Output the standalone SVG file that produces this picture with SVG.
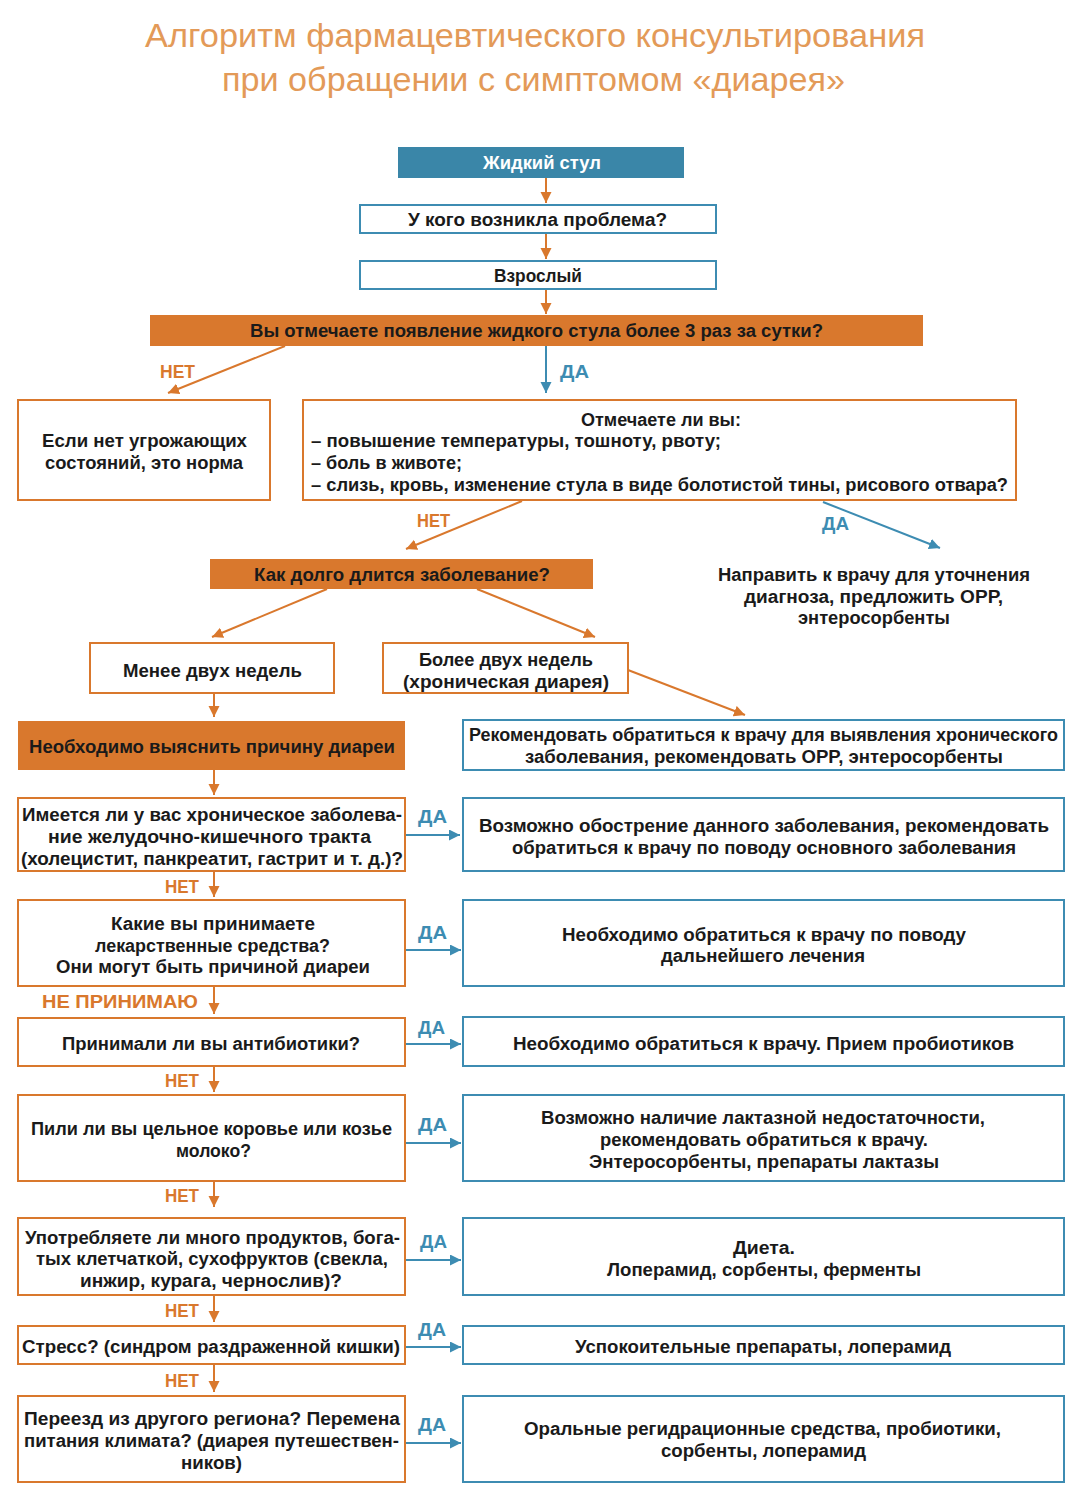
<svg xmlns="http://www.w3.org/2000/svg" width="1082" height="1494" viewBox="0 0 1082 1494">
<defs>
<marker id="ao" markerUnits="userSpaceOnUse" markerWidth="12" markerHeight="12" refX="11" refY="5.5" orient="auto"><path d="M0,0 L11,5.5 L0,11 z" fill="#D9782D"/></marker>
<marker id="ab" markerUnits="userSpaceOnUse" markerWidth="12" markerHeight="12" refX="11" refY="5.5" orient="auto"><path d="M0,0 L11,5.5 L0,11 z" fill="#3D8CB2"/></marker>
</defs>
<style>
text{font-family:"Liberation Sans","DejaVu Sans",sans-serif;font-weight:bold;font-size:18px;fill:#1a1a1a;}
.t{font-weight:normal;font-size:34px;fill:#E39A58;}
.w{fill:#ffffff;}
.lo{fill:#D9782D;}
.lb{fill:#3D8CB2;}
.ob{fill:#ffffff;stroke:#D9782D;stroke-width:2;}
.bb{fill:#ffffff;stroke:#3D8CB2;stroke-width:2;}
.of{fill:#D9782D;}
.bf{fill:#3A86A8;}
.co{stroke:#D9782D;stroke-width:2;fill:none;marker-end:url(#ao);}
.cb{stroke:#3D8CB2;stroke-width:2;fill:none;marker-end:url(#ab);}
</style>
<rect x="0" y="0" width="1082" height="1494" fill="#ffffff"/>
<g id="title">
<text class="t" x="145" y="47" textLength="780" lengthAdjust="spacingAndGlyphs">Алгоритм фармацевтического консультирования</text>
<text class="t" x="222" y="91" textLength="623" lengthAdjust="spacingAndGlyphs">при обращении с симптомом «диарея»</text>
</g>
<g id="connectors">
<line class="co" x1="546" y1="178" x2="546" y2="203"/>
<line class="co" x1="546" y1="233" x2="546" y2="259"/>
<line class="co" x1="546" y1="289" x2="546" y2="314"/>
<line class="co" x1="285" y1="346" x2="168" y2="393"/>
<line class="cb" x1="546" y1="346" x2="546" y2="393"/>
<line class="co" x1="522" y1="501" x2="406" y2="549"/>
<line class="cb" x1="823" y1="502" x2="940" y2="548"/>
<line class="co" x1="327" y1="589" x2="212" y2="637"/>
<line class="co" x1="477" y1="589" x2="595" y2="637"/>
<line class="co" x1="628" y1="670" x2="745" y2="715"/>
<line class="co" x1="214" y1="693" x2="214" y2="717"/>
<line class="co" x1="214" y1="770" x2="214" y2="795"/>
<line class="cb" x1="405" y1="835" x2="460" y2="835"/>
<line class="co" x1="214" y1="871" x2="214" y2="897"/>
<line class="cb" x1="405" y1="950" x2="461" y2="950"/>
<line class="co" x1="214" y1="986" x2="214" y2="1014"/>
<line class="cb" x1="405" y1="1044" x2="461" y2="1044"/>
<line class="co" x1="214" y1="1066" x2="214" y2="1092"/>
<line class="cb" x1="405" y1="1143" x2="461" y2="1143"/>
<line class="co" x1="214" y1="1181" x2="214" y2="1207"/>
<line class="cb" x1="405" y1="1260" x2="461" y2="1260"/>
<line class="co" x1="214" y1="1295" x2="214" y2="1322"/>
<line class="cb" x1="405" y1="1347" x2="461" y2="1347"/>
<line class="co" x1="214" y1="1364" x2="214" y2="1392"/>
<line class="cb" x1="405" y1="1443" x2="461" y2="1443"/>
<text class="lo" x="160" y="378" textLength="35" lengthAdjust="spacingAndGlyphs">НЕТ</text>
<text class="lb" x="560" y="378" textLength="29" lengthAdjust="spacingAndGlyphs">ДА</text>
<text class="lo" x="417" y="527" textLength="33" lengthAdjust="spacingAndGlyphs">НЕТ</text>
<text class="lb" x="822" y="530" textLength="27" lengthAdjust="spacingAndGlyphs">ДА</text>
<text class="lb" x="418" y="823" textLength="29" lengthAdjust="spacingAndGlyphs">ДА</text>
<text class="lo" x="165" y="893" textLength="34" lengthAdjust="spacingAndGlyphs">НЕТ</text>
<text class="lb" x="418" y="939" textLength="29" lengthAdjust="spacingAndGlyphs">ДА</text>
<text class="lo" x="42" y="1008" textLength="156" lengthAdjust="spacingAndGlyphs">НЕ ПРИНИМАЮ</text>
<text class="lb" x="418" y="1034" textLength="27" lengthAdjust="spacingAndGlyphs">ДА</text>
<text class="lo" x="165" y="1087" textLength="34" lengthAdjust="spacingAndGlyphs">НЕТ</text>
<text class="lb" x="418" y="1131" textLength="29" lengthAdjust="spacingAndGlyphs">ДА</text>
<text class="lo" x="165" y="1202" textLength="34" lengthAdjust="spacingAndGlyphs">НЕТ</text>
<text class="lb" x="420" y="1248" textLength="27" lengthAdjust="spacingAndGlyphs">ДА</text>
<text class="lo" x="165" y="1317" textLength="34" lengthAdjust="spacingAndGlyphs">НЕТ</text>
<text class="lb" x="418" y="1336" textLength="28" lengthAdjust="spacingAndGlyphs">ДА</text>
<text class="lo" x="165" y="1387" textLength="34" lengthAdjust="spacingAndGlyphs">НЕТ</text>
<text class="lb" x="418" y="1431" textLength="28" lengthAdjust="spacingAndGlyphs">ДА</text>
</g>
<g id="n_start">
<rect class="bf" x="398" y="147" width="286" height="31"/>
<text class="w" x="483" y="169" textLength="118" lengthAdjust="spacingAndGlyphs">Жидкий стул</text>
</g>
<g id="n_who">
<rect class="bb" x="360" y="205" width="356" height="28"/>
<text x="408" y="226" textLength="259" lengthAdjust="spacingAndGlyphs">У кого возникла проблема?</text>
</g>
<g id="n_adult">
<rect class="bb" x="360" y="261" width="356" height="28"/>
<text x="494" y="282" textLength="88" lengthAdjust="spacingAndGlyphs">Взрослый</text>
</g>
<g id="n_freq">
<rect class="of" x="150" y="315" width="773" height="31"/>
<text x="250" y="337" textLength="573" lengthAdjust="spacingAndGlyphs">Вы отмечаете появление жидкого стула более 3 раз за сутки?</text>
</g>
<g id="n_norm">
<rect class="ob" x="18" y="400" width="252" height="100"/>
<text x="42" y="447" textLength="205" lengthAdjust="spacingAndGlyphs">Если нет угрожающих</text>
<text x="45" y="469" textLength="198" lengthAdjust="spacingAndGlyphs">состояний, это норма</text>
</g>
<g id="n_symptoms">
<rect class="ob" x="303" y="400" width="713" height="100"/>
<text x="581" y="426" textLength="160" lengthAdjust="spacingAndGlyphs">Отмечаете ли вы:</text>
<text x="311" y="447" textLength="410" lengthAdjust="spacingAndGlyphs">– повышение температуры, тошноту, рвоту;</text>
<text x="311" y="469" textLength="151" lengthAdjust="spacingAndGlyphs">– боль в животе;</text>
<text x="311" y="491" textLength="697" lengthAdjust="spacingAndGlyphs">– слизь, кровь, изменение стула в виде болотистой тины, рисового отвара?</text>
</g>
<g id="n_howlong">
<rect class="of" x="210" y="559" width="383" height="30"/>
<text x="254" y="581" textLength="296" lengthAdjust="spacingAndGlyphs">Как долго длится заболевание?</text>
</g>
<g id="n_doctor">
<text x="718" y="581" textLength="312" lengthAdjust="spacingAndGlyphs">Направить к врачу для уточнения</text>
<text x="744" y="603" textLength="259" lengthAdjust="spacingAndGlyphs">диагноза, предложить ОРР,</text>
<text x="798" y="624" textLength="152" lengthAdjust="spacingAndGlyphs">энтеросорбенты</text>
</g>
<g id="n_less">
<rect class="ob" x="90" y="643" width="244" height="50"/>
<text x="123" y="677" textLength="179" lengthAdjust="spacingAndGlyphs">Менее двух недель</text>
</g>
<g id="n_more">
<rect class="ob" x="383" y="643" width="245" height="50"/>
<text x="419" y="666" textLength="174" lengthAdjust="spacingAndGlyphs">Более двух недель</text>
<text x="403" y="688" textLength="206" lengthAdjust="spacingAndGlyphs">(хроническая диарея)</text>
</g>
<g id="n_cause">
<rect class="of" x="18" y="721" width="387" height="49"/>
<text x="29" y="753" textLength="366" lengthAdjust="spacingAndGlyphs">Необходимо выяснить причину диареи</text>
</g>
<g id="n_chronic_rec">
<rect class="bb" x="463" y="720" width="601" height="50"/>
<text x="469" y="741" textLength="589" lengthAdjust="spacingAndGlyphs">Рекомендовать обратиться к врачу для выявления хронического</text>
<text x="525" y="763" textLength="478" lengthAdjust="spacingAndGlyphs">заболевания, рекомендовать ОРР, энтеросорбенты</text>
</g>
<g id="n_q1">
<rect class="ob" x="18" y="798" width="387" height="73"/>
<text x="22" y="821" textLength="380" lengthAdjust="spacingAndGlyphs">Имеется ли у вас хроническое заболева-</text>
<text x="48" y="843" textLength="323" lengthAdjust="spacingAndGlyphs">ние желудочно-кишечного тракта</text>
<text x="21" y="865" textLength="382" lengthAdjust="spacingAndGlyphs">(холецистит, панкреатит, гастрит и т. д.)?</text>
</g>
<g id="n_a1">
<rect class="bb" x="463" y="798" width="601" height="73"/>
<text x="479" y="832" textLength="570" lengthAdjust="spacingAndGlyphs">Возможно обострение данного заболевания, рекомендовать</text>
<text x="512" y="854" textLength="504" lengthAdjust="spacingAndGlyphs">обратиться к врачу по поводу основного заболевания</text>
</g>
<g id="n_q2">
<rect class="ob" x="18" y="900" width="387" height="86"/>
<text x="111" y="930" textLength="204" lengthAdjust="spacingAndGlyphs">Какие вы принимаете</text>
<text x="95" y="952" textLength="235" lengthAdjust="spacingAndGlyphs">лекарственные средства?</text>
<text x="56" y="973" textLength="314" lengthAdjust="spacingAndGlyphs">Они могут быть причиной диареи</text>
</g>
<g id="n_a2">
<rect class="bb" x="463" y="900" width="601" height="86"/>
<text x="562" y="941" textLength="404" lengthAdjust="spacingAndGlyphs">Необходимо обратиться к врачу по поводу</text>
<text x="661" y="962" textLength="204" lengthAdjust="spacingAndGlyphs">дальнейшего лечения</text>
</g>
<g id="n_q3">
<rect class="ob" x="18" y="1018" width="387" height="48"/>
<text x="62" y="1050" textLength="298" lengthAdjust="spacingAndGlyphs">Принимали ли вы антибиотики?</text>
</g>
<g id="n_a3">
<rect class="bb" x="463" y="1017" width="601" height="49"/>
<text x="513" y="1050" textLength="501" lengthAdjust="spacingAndGlyphs">Необходимо обратиться к врачу. Прием пробиотиков</text>
</g>
<g id="n_q4">
<rect class="ob" x="18" y="1095" width="387" height="86"/>
<text x="31" y="1135" textLength="361" lengthAdjust="spacingAndGlyphs">Пили ли вы цельное коровье или козье</text>
<text x="176" y="1157" textLength="75" lengthAdjust="spacingAndGlyphs">молоко?</text>
</g>
<g id="n_a4">
<rect class="bb" x="463" y="1095" width="601" height="86"/>
<text x="541" y="1124" textLength="444" lengthAdjust="spacingAndGlyphs">Возможно наличие лактазной недостаточности,</text>
<text x="600" y="1146" textLength="328" lengthAdjust="spacingAndGlyphs">рекомендовать обратиться к врачу.</text>
<text x="589" y="1168" textLength="350" lengthAdjust="spacingAndGlyphs">Энтеросорбенты, препараты лактазы</text>
</g>
<g id="n_q5">
<rect class="ob" x="18" y="1218" width="387" height="77"/>
<text x="25" y="1244" textLength="375" lengthAdjust="spacingAndGlyphs">Употребляете ли много продуктов, бога-</text>
<text x="36" y="1265" textLength="352" lengthAdjust="spacingAndGlyphs">тых клетчаткой, сухофруктов (свекла,</text>
<text x="80" y="1287" textLength="262" lengthAdjust="spacingAndGlyphs">инжир, курага, чернослив)?</text>
</g>
<g id="n_a5">
<rect class="bb" x="463" y="1218" width="601" height="77"/>
<text x="733" y="1254" textLength="62" lengthAdjust="spacingAndGlyphs">Диета.</text>
<text x="607" y="1276" textLength="314" lengthAdjust="spacingAndGlyphs">Лоперамид, сорбенты, ферменты</text>
</g>
<g id="n_q6">
<rect class="ob" x="18" y="1326" width="387" height="38"/>
<text x="22" y="1353" textLength="378" lengthAdjust="spacingAndGlyphs">Стресс? (синдром раздраженной кишки)</text>
</g>
<g id="n_a6">
<rect class="bb" x="463" y="1326" width="601" height="38"/>
<text x="575" y="1353" textLength="376" lengthAdjust="spacingAndGlyphs">Успокоительные препараты, лоперамид</text>
</g>
<g id="n_q7">
<rect class="ob" x="18" y="1396" width="387" height="86"/>
<text x="24" y="1425" textLength="376" lengthAdjust="spacingAndGlyphs">Переезд из другого региона? Перемена</text>
<text x="24" y="1447" textLength="375" lengthAdjust="spacingAndGlyphs">питания климата? (диарея путешествен-</text>
<text x="181" y="1469" textLength="61" lengthAdjust="spacingAndGlyphs">ников)</text>
</g>
<g id="n_a7">
<rect class="bb" x="463" y="1396" width="601" height="86"/>
<text x="524" y="1435" textLength="477" lengthAdjust="spacingAndGlyphs">Оральные регидрационные средства, пробиотики,</text>
<text x="661" y="1457" textLength="205" lengthAdjust="spacingAndGlyphs">сорбенты, лоперамид</text>
</g>
</svg>
